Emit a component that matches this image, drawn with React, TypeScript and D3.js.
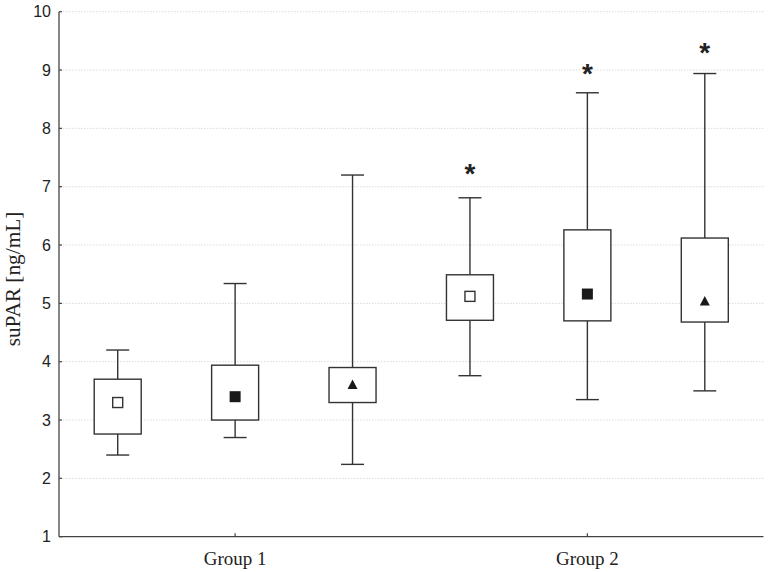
import React from "react";
import * as d3 from "d3";

const boxIds = ["g1a", "g1b", "g1c", "g2a", "g2b", "g2c"];
const whiskerLow = [2.4, 2.7, 2.24, 3.76, 3.35, 3.5];
const boxLow = [2.76, 3.0, 3.3, 4.71, 4.7, 4.68];
const boxHigh = [3.7, 3.94, 3.9, 5.49, 6.26, 6.12];
const whiskerHigh = [4.2, 5.34, 7.2, 6.81, 8.61, 8.94];
const centerValues = [3.3, 3.4, 3.6, 5.12, 5.16, 5.03];
const markerTypes = ["openSquare", "filledSquare", "triangle", "openSquare", "filledSquare", "triangle"];
const starValues: (number | null)[] = [null, null, null, 7.33, 9.06, 9.41];
const groupLabels = ["Group 1", "Group 2"];
const groupCenterIndex = [1, 4];
const yTicks = [1, 2, 3, 4, 5, 6, 7, 8, 9, 10];

export default function App() {
  const W = 768, H = 572;
  const x = d3.scaleBand<string>().domain(boxIds).range([59, 763.5]).paddingInner(0).paddingOuter(0);
  const y = d3.scaleLinear().domain([1, 10]).range([536.7, 11.7]);
  const bw = 47;
  const cap = 23;
  const cx = (i: number) => (x(boxIds[i]) as number) + x.bandwidth() / 2;
  const stroke = "#333";
  const sans = "'Liberation Sans', Arial, sans-serif";
  const serif = "'Liberation Serif', 'Times New Roman', serif";

  return (
    <svg width={W} height={H} style={{ position: "absolute", left: 0, top: 0, background: "#fff" }}>
      {yTicks.filter(t => t > 1).map(t => (
        <line key={"g" + t} x1={60} x2={763.5} y1={y(t)} y2={y(t)} stroke="#d2d2d2" strokeWidth={0.8} strokeDasharray="1.5,1.5" />
      ))}
      <line x1={59} x2={59} y1={y(10)} y2={y(1)} stroke="#444" strokeWidth={1.3} />
      <line x1={59} x2={763.5} y1={y(1)} y2={y(1)} stroke="#444" strokeWidth={1.3} />
      {yTicks.map(t => (
        <g key={"t" + t}>
          <line x1={59} x2={62} y1={y(t)} y2={y(t)} stroke="#444" strokeWidth={1.2} />
          <text x={51} y={y(t)} dy="0.35em" textAnchor="end" fontFamily={sans} fontSize={16} fill="#222">{t}</text>
        </g>
      ))}
      {groupLabels.map((g, k) => (
        <g key={g}>
          <line x1={cx(groupCenterIndex[k])} x2={cx(groupCenterIndex[k])} y1={y(1)} y2={y(1) - 3.5} stroke="#444" strokeWidth={1.2} />
          <text x={cx(groupCenterIndex[k])} y={564.5} textAnchor="middle" fontFamily={serif} fontSize={19} fill="#222">{g}</text>
        </g>
      ))}
      <text transform={`translate(19.5,279) rotate(-90)`} textAnchor="middle" fontFamily={serif} fontSize={21.3} fill="#222">suPAR [ng/mL]</text>
      {boxIds.map((id, i) => {
        const c = cx(i);
        const m = markerTypes[i];
        const my = y(centerValues[i]);
        return (
          <g key={id}>
            <line x1={c} x2={c} y1={y(whiskerHigh[i])} y2={y(boxHigh[i])} stroke={stroke} strokeWidth={1.4} />
            <line x1={c} x2={c} y1={y(boxLow[i])} y2={y(whiskerLow[i])} stroke={stroke} strokeWidth={1.4} />
            <line x1={c - cap / 2} x2={c + cap / 2} y1={y(whiskerHigh[i])} y2={y(whiskerHigh[i])} stroke={stroke} strokeWidth={1.4} />
            <line x1={c - cap / 2} x2={c + cap / 2} y1={y(whiskerLow[i])} y2={y(whiskerLow[i])} stroke={stroke} strokeWidth={1.4} />
            <rect x={c - bw / 2} y={y(boxHigh[i])} width={bw} height={y(boxLow[i]) - y(boxHigh[i])} fill="#fff" stroke={stroke} strokeWidth={1.4} />
            {m === "openSquare" && <rect x={c - 5} y={my - 5} width={10} height={10} fill="#fff" stroke={stroke} strokeWidth={1.4} />}
            {m === "filledSquare" && <rect x={c - 5.5} y={my - 5.5} width={11} height={11} fill="#1a1a1a" />}
            {m === "triangle" && <path d={`M${c},${my - 5.5}L${c + 5},${my + 4}L${c - 5},${my + 4}Z`} fill="#1a1a1a" />}
            {starValues[i] !== null && (
              <text x={c} y={y(starValues[i] as number) + 16} textAnchor="middle" fontFamily={sans} fontWeight="bold" fontSize={28} fill="#222">*</text>
            )}
          </g>
        );
      })}
    </svg>
  );
}
